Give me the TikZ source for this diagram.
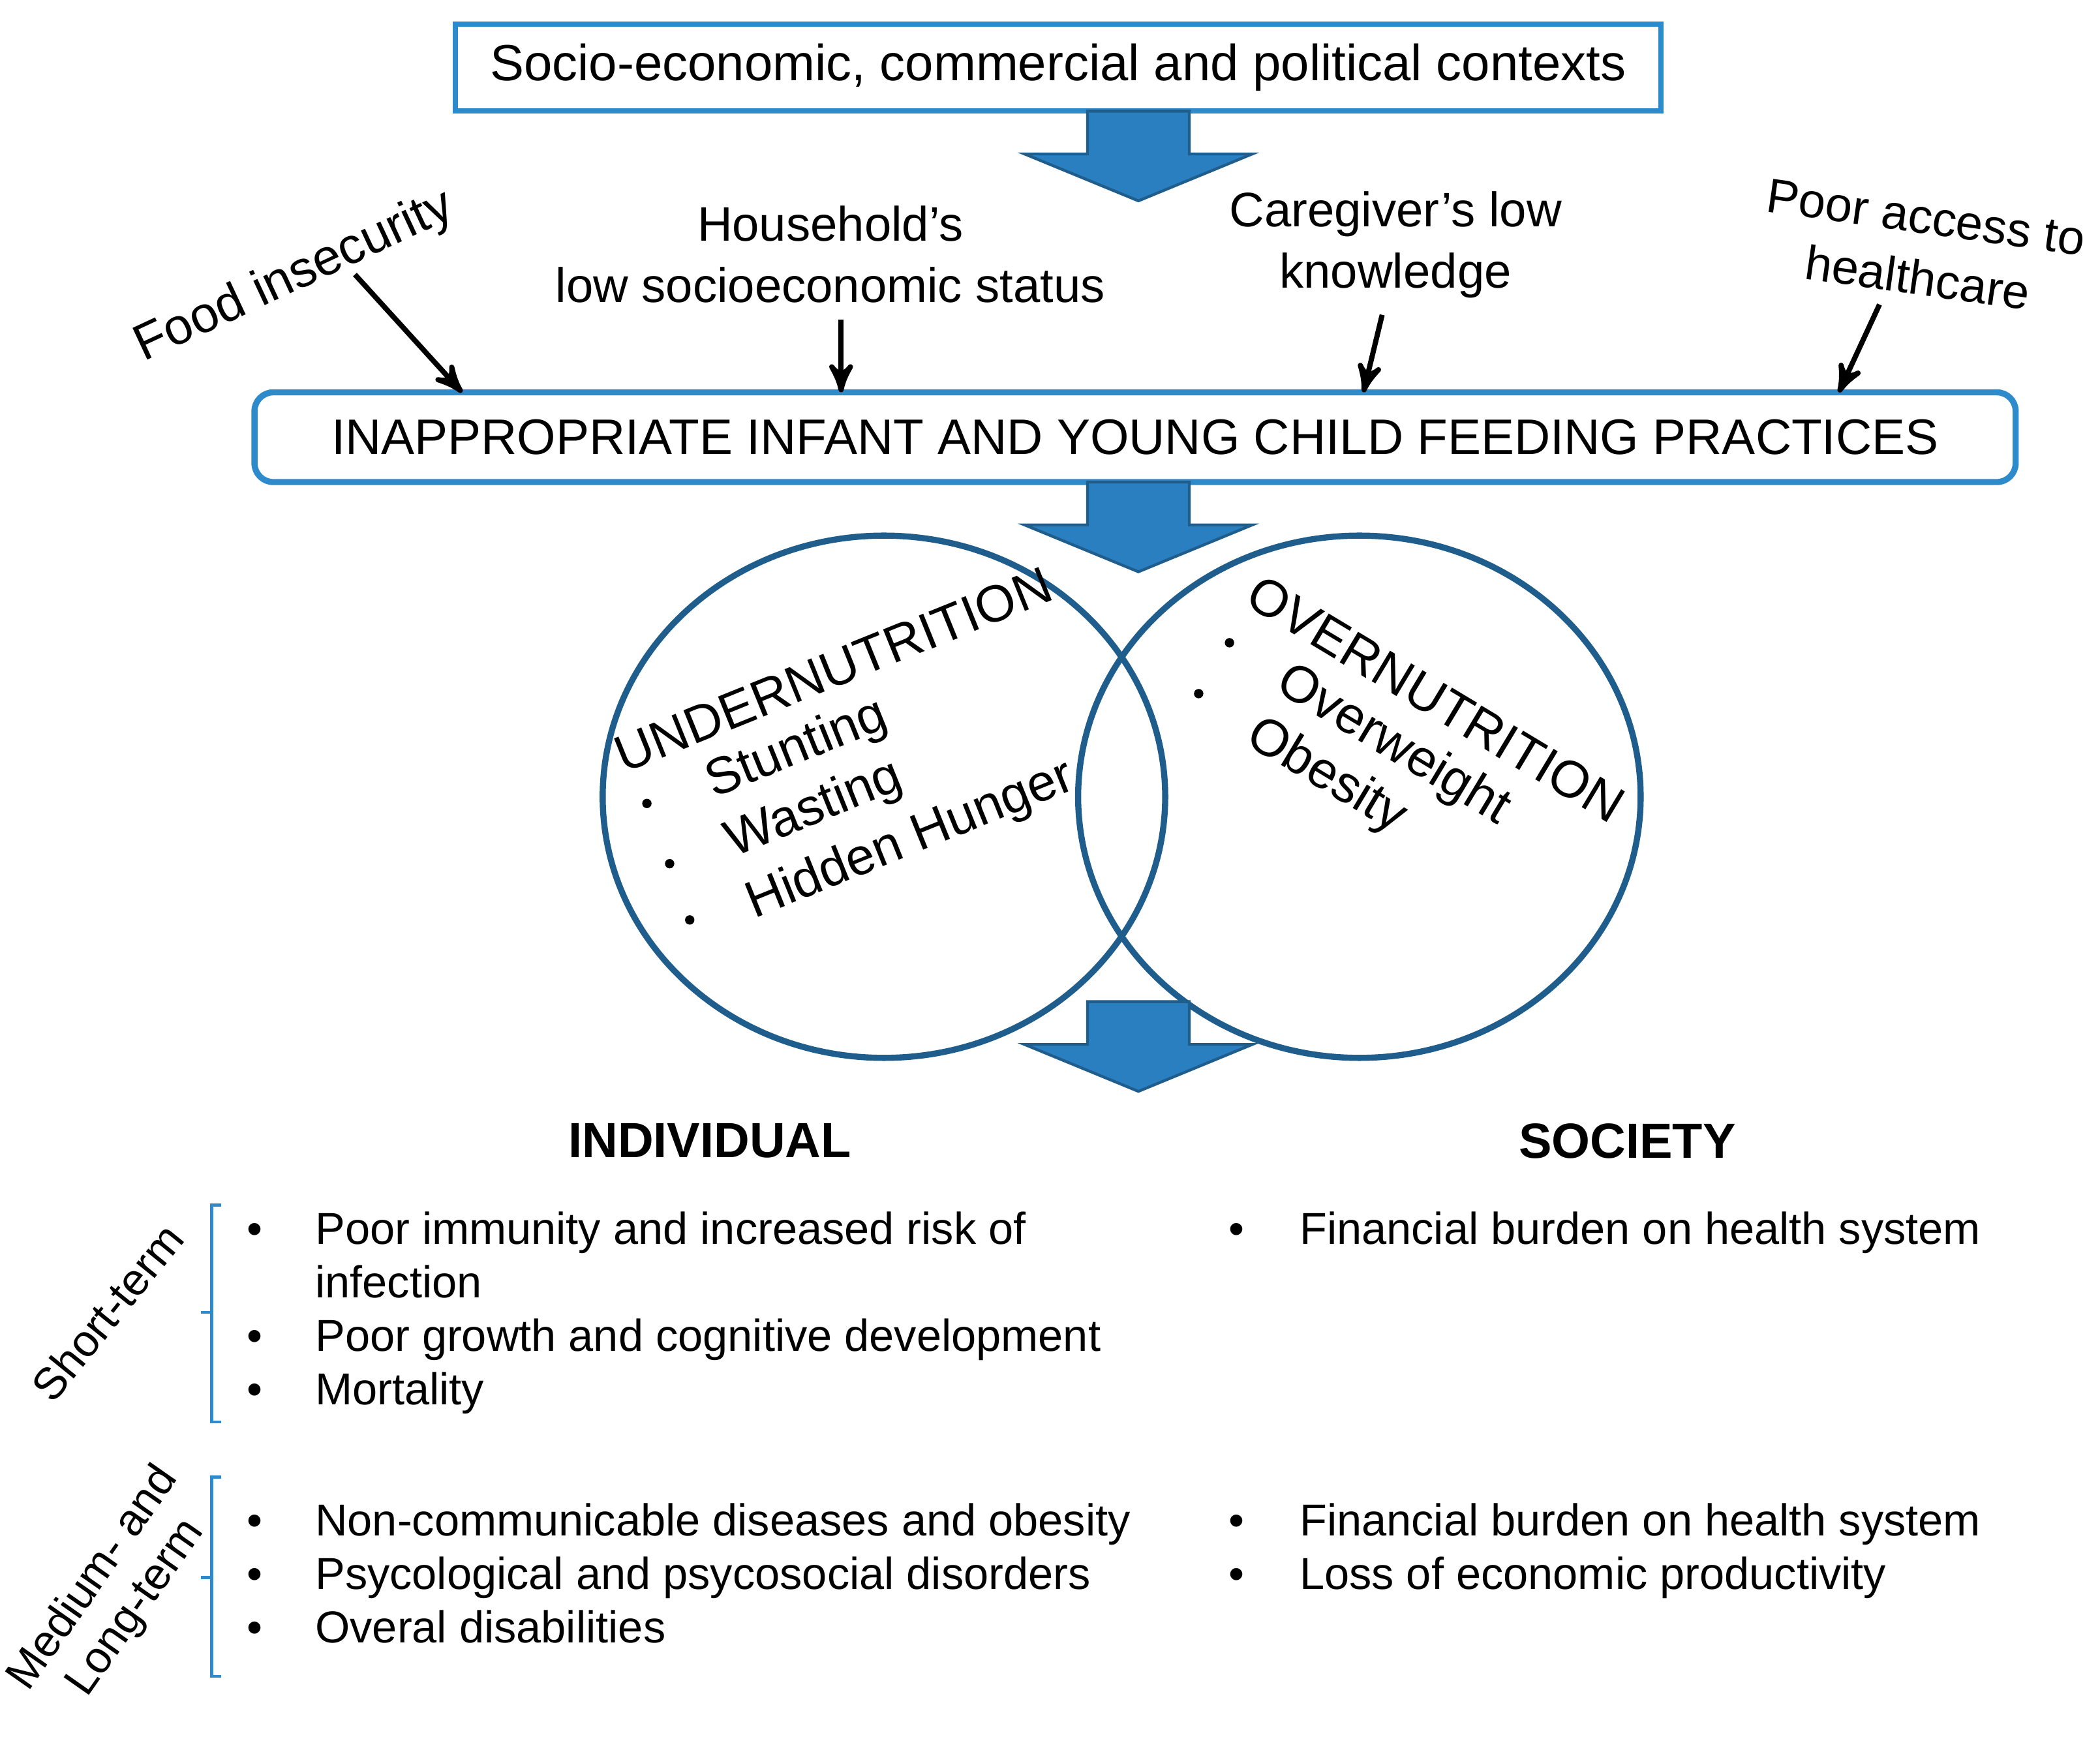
\documentclass[tikz,border=0pt]{standalone}
\usepackage{fontspec}
\setmainfont{Liberation Sans}
\usetikzlibrary{arrows,positioning,shapes}
\definecolor{boxblue}{HTML}{2E8BCB}
\definecolor{circblue}{HTML}{1F5E8C}
\definecolor{arrblue}{HTML}{2A7FC0}
\tikzset{
    %Define standard arrow tip
    >=stealth',
    %Define style for boxes
    box/.style={
           rectangle,
           draw=boxblue, line width=1.1pt,
           minimum height=0.65cm,
           font=\fontsize{10.8}{12}\selectfont},
    rbox/.style={
           rectangle,
           rounded corners=4pt,
           draw=boxblue, line width=1.3pt,
           minimum height=0.67cm,
           font=\fontsize{10.6}{12}\selectfont},
    circ/.style={
           ellipse,
           draw=circblue, line width=1.3pt,
           minimum width=4.2cm,
           minimum height=3.9cm},
    factor/.style={
           align=center,
           font=\fontsize{10.3}{13}\selectfont},
    circtext/.style={
           font=\fontsize{11}{13}\selectfont},
    head/.style={
           font=\bfseries\fontsize{10.5}{12}\selectfont},
    item/.style={
           anchor=base west,
           font=\fontsize{9.5}{11}\selectfont},
    % Define arrow style
    arr/.style={
           ->,
           line width=1.1pt},
    brace/.style={
           draw=boxblue, line width=0.6pt},
    bigarr/.style={
           fill=arrblue, draw=circblue, line width=0.6pt}
}
\newcommand{\blockarrow}[2]{%
  \fill[bigarr] (#1-0.38,#2) -- (#1+0.38,#2) -- (#1+0.38,#2-0.32) -- (#1+0.85,#2-0.32)
    -- (#1,#2-0.67) -- (#1-0.85,#2-0.32) -- (#1-0.38,#2-0.32) -- cycle;}
\begin{document}
\begin{tikzpicture}
  \useasboundingbox (0,0) rectangle (15.68,-12.97);

  \node[box, minimum width=9cm] (context) at (7.90,-0.505)
    {Socio-economic, commercial and political contexts};
  \blockarrow{8.50}{-0.83}

  \node[factor, rotate=25, font=\fontsize{10.8}{13}\selectfont] (food) at (2.20,-2.07) {Food insecurity};
  \node[factor] (household) at (6.20,-1.90) {Household’s\\low socioeconomic status};
  \node[factor] (caregiver) at (10.42,-1.83) {Caregiver’s low\\knowledge};
  \node[factor, rotate=-8] (access) at (14.35,-1.85) {Poor access to\\healthcare};

  \node[rbox, minimum width=13.15cm] (iycf) at (8.475,-3.265)
    {INAPPROPRIATE INFANT AND YOUNG CHILD FEEDING PRACTICES};

  \coordinate (a1) at (3.45,-2.93);
  \coordinate (a2) at (6.28,-2.93);
  \coordinate (a3) at (10.18,-2.93);
  \coordinate (a4) at (13.73,-2.93);
  \draw[arr] (2.65,-2.05) -- (a1);
  \draw[arr] (household.south) ++(0.08,0) -- (a2);
  \draw[arr] (caregiver.south) ++(-0.1,0) -- (a3);
  \draw[arr] (access.south) ++(-0.25,0.05) -- (a4);

  \blockarrow{8.50}{-3.60}

  \node[circ] (under) at (6.60,-5.95) {};
  \node[circ] (over) at (10.15,-5.95) {};

  \node[circtext, rotate=22] (undertitle) at (6.22,-5.00) {UNDERNUTRITION};
  \node[circtext, rotate=22] (stunting) at (5.95,-5.60) {Stunting};
  \node[circtext, rotate=22] (wasting) at (6.08,-6.05) {Wasting};
  \node[circtext, rotate=22] (hidden) at (6.80,-6.28) {Hidden Hunger};
  \foreach \x/\y in {4.83/-6.00, 5.00/-6.45, 5.15/-6.87}
    \fill (\x,\y) circle (0.035);

  \node[circtext, rotate=-31] (overtitle) at (10.72,-5.22) {OVERNUTRITION};
  \node[circtext, rotate=-31] (overweight) at (10.40,-5.57) {Overweight};
  \node[circtext, rotate=-31] (obesity) at (9.90,-5.80) {Obesity};
  \foreach \x/\y in {9.18/-4.80, 8.95/-5.18}
    \fill (\x,\y) circle (0.035);

  \blockarrow{8.50}{-7.48}

  \node[head] (individual) at (5.30,-8.52) {INDIVIDUAL};
  \node[head] (society) at (12.15,-8.52) {SOCIETY};

  % individual effects
  \foreach \y/\t in {9.29/Poor immunity and increased risk of, 9.69/infection,
      10.09/Poor growth and cognitive development, 10.49/Mortality,
      11.47/Non-communicable diseases and obesity,
      11.87/Psycological and psycosocial disorders, 12.27/Overal disabilities}
    \node[item] at (2.23,-\y) {\t};
  \foreach \y in {9.29, 10.09, 10.49, 11.47, 11.87, 12.27}
    \node[item] at (1.72,-\y) {•};

  % society effects
  \foreach \y/\t in {9.29/Financial burden on health system,
      11.47/Financial burden on health system,
      11.87/Loss of economic productivity}
    {\node[item] at (9.58,-\y) {\t};
     \node[item] at (9.05,-\y) {•};}

  % braces
  \draw[brace] (1.65,-9.00) -- (1.58,-9.00) -- (1.58,-10.62) -- (1.65,-10.62);
  \draw[brace] (1.58,-9.80) -- (1.50,-9.80);
  \draw[brace] (1.65,-11.03) -- (1.58,-11.03) -- (1.58,-12.52) -- (1.65,-12.52);
  \draw[brace] (1.58,-11.78) -- (1.50,-11.78);

  \node[factor, rotate=51, font=\fontsize{9.5}{11}\selectfont] (short) at (0.80,-9.80) {Short-term};
  \node[factor, rotate=55, font=\fontsize{9.5}{11}\selectfont] (long) at (0.86,-11.90) {Medium- and\\Long-term};
\end{tikzpicture}
\end{document}
